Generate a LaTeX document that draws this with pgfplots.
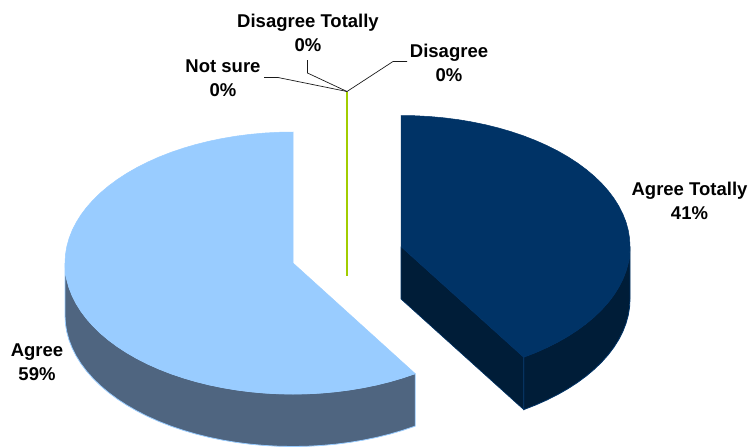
\documentclass[border=0pt]{standalone}
\usepackage{pgfplots}
\usepackage{pgfplotstable}
\usepackage{fontspec}
\setmainfont{Liberation Sans}
\pgfplotsset{compat=1.18}

\definecolor{navytop}{HTML}{003366}
\definecolor{navyside}{HTML}{001D38}
\definecolor{skytop}{HTML}{99CCFF}
\definecolor{skyside}{HTML}{4F6580}
\definecolor{zeroline}{HTML}{A2CD00}
\definecolor{leader}{HTML}{1A1A1A}

% Agree Totally, 41 % of the circle: s and c are the sine and cosine at each cumulative percent
\pgfplotstableread{
s c
0 0
0 1
.06279 .99803
.12533 .99211
.18738 .98229
.24869 .96858
.30902 .95106
.36812 .92978
.42578 .90483
.48175 .87631
.53583 .84433
.58779 .80902
.63742 .77051
.68455 .72897
.72897 .68455
.77051 .63742
.80902 .58779
.84433 .53583
.87631 .48175
.90483 .42578
.92978 .36812
.95106 .30902
.96858 .24869
.98229 .18738
.99211 .12533
.99803 .06279
1 0
.99803 -.06279
.99211 -.12533
.98229 -.18738
.96858 -.24869
.95106 -.30902
.92978 -.36812
.90483 -.42578
.87631 -.48175
.84433 -.53583
.80902 -.58779
.77051 -.63742
.72897 -.68455
.68455 -.72897
.63742 -.77051
.58779 -.80902
.53583 -.84433
0 0
}\agreetotally

% Agree, the remaining 59 %
\pgfplotstableread{
s c
0 0
.53583 -.84433
.48175 -.87631
.42578 -.90483
.36812 -.92978
.30902 -.95106
.24869 -.96858
.18738 -.98229
.12533 -.99211
.06279 -.99803
0 -1
-.06279 -.99803
-.12533 -.99211
-.18738 -.98229
-.24869 -.96858
-.30902 -.95106
-.36812 -.92978
-.42578 -.90483
-.48175 -.87631
-.53583 -.84433
-.58779 -.80902
-.63742 -.77051
-.68455 -.72897
-.72897 -.68455
-.77051 -.63742
-.80902 -.58779
-.84433 -.53583
-.87631 -.48175
-.90483 -.42578
-.92978 -.36812
-.95106 -.30902
-.96858 -.24869
-.98229 -.18738
-.99211 -.12533
-.99803 -.06279
-1 0
-.99803 .06279
-.99211 .12533
-.98229 .18738
-.96858 .24869
-.95106 .30902
-.92978 .36812
-.90483 .42578
-.87631 .48175
-.84433 .53583
-.80902 .58779
-.77051 .63742
-.72897 .68455
-.68455 .72897
-.63742 .77051
-.58779 .80902
-.53583 .84433
-.48175 .87631
-.42578 .90483
-.36812 .92978
-.30902 .95106
-.24869 .96858
-.18738 .98229
-.12533 .99211
-.06279 .99803
0 1
0 0
}\agree

% Outer wall of Agree Totally: d is 0 on the upper edge and 1 on the lower edge
\pgfplotstableread{
s c d
1 0 0
.99803 -.06279 0
.99211 -.12533 0
.98229 -.18738 0
.96858 -.24869 0
.95106 -.30902 0
.92978 -.36812 0
.90483 -.42578 0
.87631 -.48175 0
.84433 -.53583 0
.80902 -.58779 0
.77051 -.63742 0
.72897 -.68455 0
.68455 -.72897 0
.63742 -.77051 0
.58779 -.80902 0
.53583 -.84433 0
.53583 -.84433 1
.58779 -.80902 1
.63742 -.77051 1
.68455 -.72897 1
.72897 -.68455 1
.77051 -.63742 1
.80902 -.58779 1
.84433 -.53583 1
.87631 -.48175 1
.90483 -.42578 1
.92978 -.36812 1
.95106 -.30902 1
.96858 -.24869 1
.98229 -.18738 1
.99211 -.12533 1
.99803 -.06279 1
1 0 1
1 0 0
}\agreetotallywall

% Outer wall of Agree, on the same pattern
\pgfplotstableread{
s c d
.53583 -.84433 0
.48175 -.87631 0
.42578 -.90483 0
.36812 -.92978 0
.30902 -.95106 0
.24869 -.96858 0
.18738 -.98229 0
.12533 -.99211 0
.06279 -.99803 0
0 -1 0
-.06279 -.99803 0
-.12533 -.99211 0
-.18738 -.98229 0
-.24869 -.96858 0
-.30902 -.95106 0
-.36812 -.92978 0
-.42578 -.90483 0
-.48175 -.87631 0
-.53583 -.84433 0
-.58779 -.80902 0
-.63742 -.77051 0
-.68455 -.72897 0
-.72897 -.68455 0
-.77051 -.63742 0
-.80902 -.58779 0
-.84433 -.53583 0
-.87631 -.48175 0
-.90483 -.42578 0
-.92978 -.36812 0
-.95106 -.30902 0
-.96858 -.24869 0
-.98229 -.18738 0
-.99211 -.12533 0
-.99803 -.06279 0
-1 0 0
-1 0 1
-.99803 -.06279 1
-.99211 -.12533 1
-.98229 -.18738 1
-.96858 -.24869 1
-.95106 -.30902 1
-.92978 -.36812 1
-.90483 -.42578 1
-.87631 -.48175 1
-.84433 -.53583 1
-.80902 -.58779 1
-.77051 -.63742 1
-.72897 -.68455 1
-.68455 -.72897 1
-.63742 -.77051 1
-.58779 -.80902 1
-.53583 -.84433 1
-.48175 -.87631 1
-.42578 -.90483 1
-.36812 -.92978 1
-.30902 -.95106 1
-.24869 -.96858 1
-.18738 -.98229 1
-.12533 -.99211 1
-.06279 -.99803 1
0 -1 1
.06279 -.99803 1
.12533 -.99211 1
.18738 -.98229 1
.24869 -.96858 1
.30902 -.95106 1
.36812 -.92978 1
.42578 -.90483 1
.48175 -.87631 1
.53583 -.84433 1
.53583 -.84433 0
}\agreewall

% Placement of the two exploded slices on the page
\pgfplotsset{
  table/navy top/.style={x expr={401+229*\thisrow{s}}, y expr={246.5-131*\thisrow{c}}},
  table/navy wall/.style={x expr={401+229*\thisrow{s}}, y expr={246.5+52.5*\thisrow{d}-131*\thisrow{c}}},
  table/sky top/.style={x expr={293+228*\thisrow{s}}, y expr={263-131*\thisrow{c}}},
  table/sky wall/.style={x expr={293+228*\thisrow{s}}, y expr={263+52.5*\thisrow{d}-131*\thisrow{c}}},
}

\newcommand{\slicelabel}[3]{%
  \node[align=center, inner sep=0pt, font=\fontsize{18.5}{24}\selectfont\bfseries, text=black]
    at (axis cs:#1,#2) {#3};}

\begin{document}
\begin{tikzpicture}
\begin{axis}[
  at={(0,0)}, anchor=south west,
  width=751pt, height=447pt, scale only axis,
  xmin=0, xmax=751, ymin=0, ymax=447, y dir=reverse,
  hide axis, clip=false,
]
% Outer walls
\addplot[fill=navyside, draw=navytop, line width=0.8pt, forget plot] table[navy wall] {\agreetotallywall};
\addplot[fill=skyside, draw=skytop, line width=0.8pt, forget plot] table[sky wall] {\agreewall};

% Cut face of the navy slice
\addplot[fill=navyside, draw=navytop, line width=0.6pt, forget plot] coordinates
  {(401,246.5) (523.7,357.1) (523.7,409.6) (401,299) (401,246.5)};

% Top faces
\addplot[fill=navytop, draw=navytop, line width=0.5pt, forget plot] table[navy top] {\agreetotally};
\addplot[fill=skytop, draw=skytop, line width=0.5pt, forget plot] table[sky top] {\agree};

% The three empty slices collapse onto a single line
\addplot[draw=zeroline, line width=1.5pt, forget plot] coordinates {(347,92) (347,276)};

% Leader lines
\addplot[draw=leader, line width=0.7pt, forget plot] coordinates {(264,77.5) (278,77.5) (347,91.5)};
\addplot[draw=leader, line width=0.7pt, forget plot] coordinates {(307.5,60) (307.5,73) (347,91.5)};
\addplot[draw=leader, line width=0.7pt, forget plot] coordinates {(407,61.5) (393,61.5) (347,91.5)};

\slicelabel{689.5}{201}{Agree Totally\\41\%}
\slicelabel{37}{362.5}{Agree\\59\%}
\slicelabel{223}{78}{Not sure\\0\%}
\slicelabel{308}{32.5}{Disagree Totally\\0\%}
\slicelabel{449}{62.5}{Disagree\\0\%}
\end{axis}
% Keeps the page at the full size of the chart area
\path (0,0) rectangle (751pt,447pt);
\end{tikzpicture}
\end{document}
